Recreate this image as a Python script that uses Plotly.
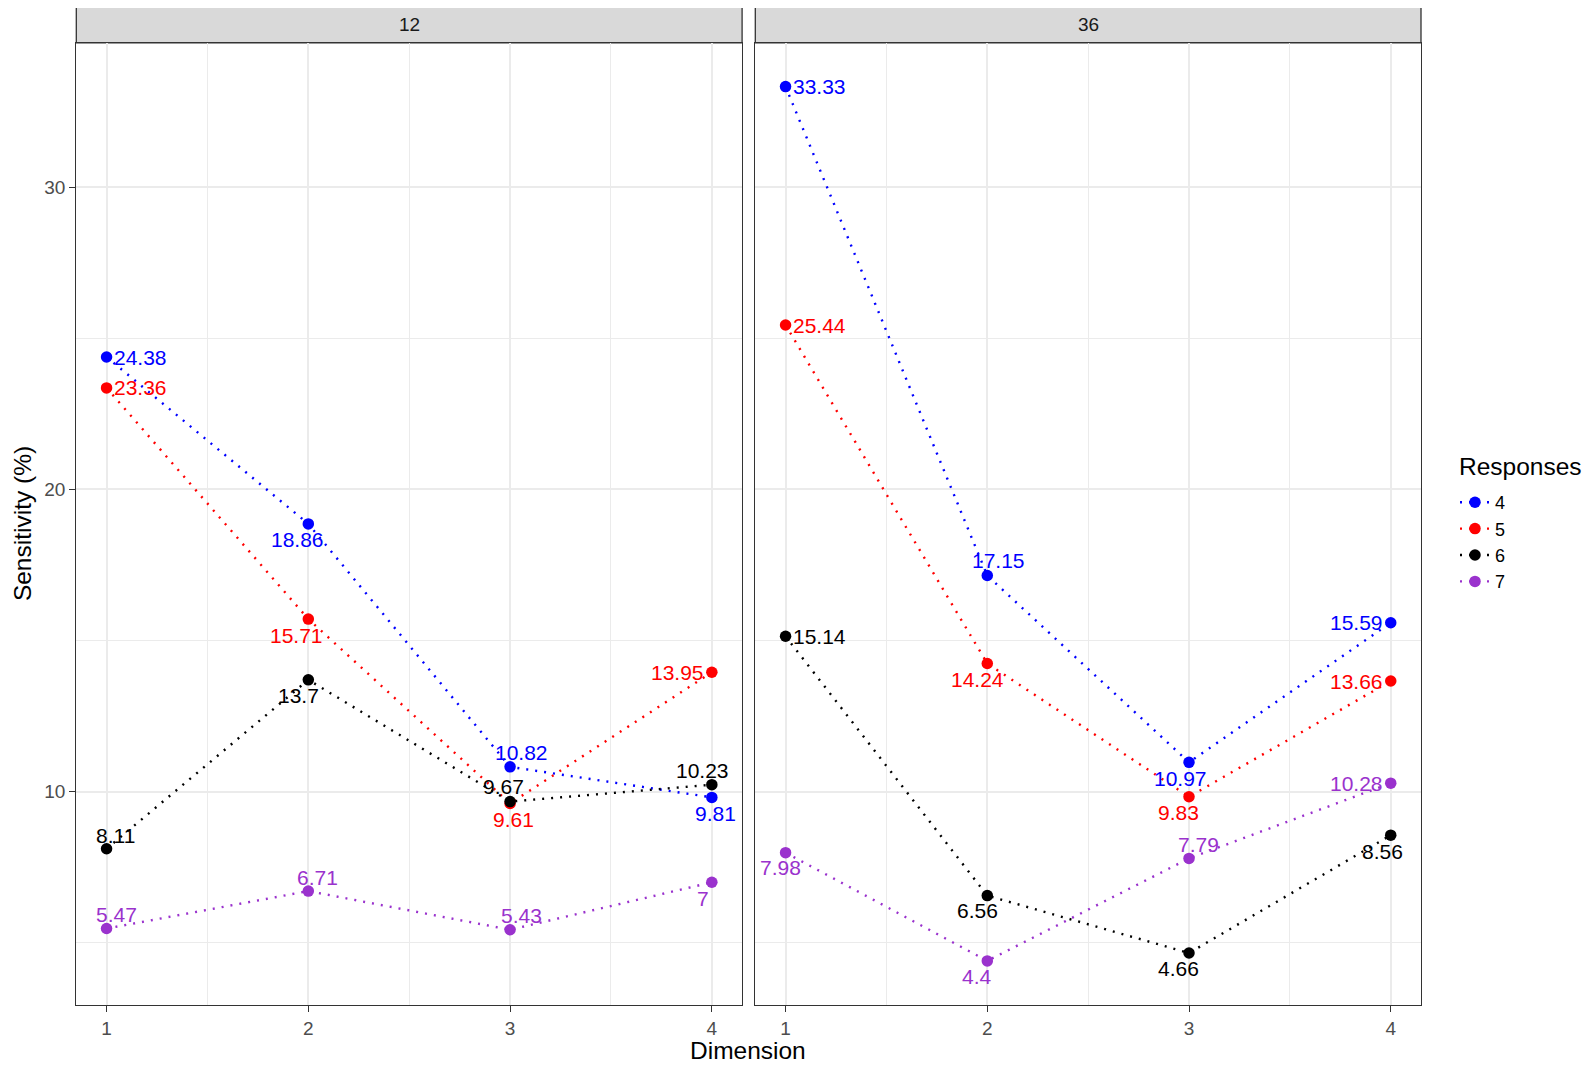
import plotly.graph_objects as go

# ---- data ----
dims = [1, 2, 3, 4]
responses = ["4", "5", "6", "7"]
facets = ["12", "36"]

r4_12 = [24.38, 18.86, 10.82, 9.81]
r5_12 = [23.36, 15.71, 9.61, 13.95]
r6_12 = [8.11, 13.7, 9.67, 10.23]
r7_12 = [5.47, 6.71, 5.43, 7.00]

r4_36 = [33.33, 17.15, 10.97, 15.59]
r5_36 = [25.44, 14.24, 9.83, 13.66]
r6_36 = [15.14, 6.56, 4.66, 8.56]
r7_36 = [7.98, 4.40, 7.79, 10.28]

series = {
    "12": [r4_12, r5_12, r6_12, r7_12],
    "36": [r4_36, r5_36, r6_36, r7_36],
}

# ---- styles ----
colors = ["#0000FF", "#FF0000", "#000000", "#9A32CD"]
FONT = "Liberation Sans, Arial, Helvetica, sans-serif"

# label placement (style only): "R" right of point, "L" left of point, or (dx, dy) px
R, L = "R", "L"
place = {
    "12": [
        [R, (-11, -16), (11, 14), (4, -16)],
        [R, (-12, -16), (3, -16), L],
        [(9, 13), (-10, -16), (-7, 15), (-9, 14)],
        [(10, 14), (9, 14), (11, 14), (-9, -16)],
    ],
    "36": [
        [R, (11, 15), (-9, -16), L],
        [R, (-10, -16), (-11, -16), L],
        [R, (-10, -15), (-11, -15), (-8, -16)],
        [(-5, -15), (-10, -16), (9, 14), L],
    ],
}

# page offset (browser body margin) compensation
OFF = 8
W, H = 1596 - OFF, 1067 - OFF


def px(sx):
    return (sx - OFF) / W


def py(sy):
    return 1 - (sy - OFF) / H


xdom = [[px(76.3), px(742.1)], [px(755.3), px(1421.0)]]
ydom = [py(1004.7), py(42.75)]
strip_top = py(6.1)

fig = go.Figure()
annotations = []
shapes = []

for p, fac in enumerate(facets):
    xa = "x" if p == 0 else "x2"
    ya = "y" if p == 0 else "y2"
    for i, resp in enumerate(responses):
        vals = series[fac][i]
        fig.add_trace(go.Scatter(
            x=dims, y=vals, mode="lines+markers", name=resp,
            legendgroup=resp, showlegend=(p == 0),
            line=dict(color=colors[i], width=2.4, dash="2px,7px"),
            marker=dict(color=colors[i], size=11.5),
            xaxis=xa, yaxis=ya, hoverinfo="x+y+name",
        ))
        for j, v in enumerate(vals):
            pl = place[fac][i][j]
            txt = f"{v:g}"
            if pl == "R":
                xanchor, dx, dy = "left", 5, 0
            elif pl == "L":
                xanchor, dx, dy = "right", -6, 0
            else:
                xanchor = "center"
                dx, dy = pl
            annotations.append(dict(
                x=dims[j], y=v, xref=xa, yref=ya, text=txt, showarrow=False,
                xanchor=xanchor, yanchor="middle", xshift=dx, yshift=dy,
                font=dict(family=FONT, size=21, color=colors[i]),
            ))
    # strip
    shapes.append(dict(type="rect", xref="paper", yref="paper",
                       x0=xdom[p][0], x1=xdom[p][1], y0=ydom[1], y1=strip_top,
                       fillcolor="#D9D9D9", line=dict(color="#333333", width=1.3),
                       layer="below"))
    annotations.append(dict(
        x=(xdom[p][0] + xdom[p][1]) / 2, y=(ydom[1] + strip_top) / 2,
        xref="paper", yref="paper", text=fac, showarrow=False,
        xanchor="center", yanchor="middle",
        font=dict(family=FONT, size=19, color="#1A1A1A"),
    ))

# axis titles
annotations.append(dict(x=px(748), y=py(1050.5), xref="paper", yref="paper",
                        text="Dimension", showarrow=False, xanchor="center", yanchor="middle",
                        font=dict(family=FONT, size=24.5, color="#000000")))
annotations.append(dict(x=px(22.4), y=py(523.7), xref="paper", yref="paper",
                        text="Sensitivity (%)", showarrow=False, textangle=-90,
                        xanchor="center", yanchor="middle",
                        font=dict(family=FONT, size=24.5, color="#000000")))
# legend title
annotations.append(dict(x=px(1457), y=py(466), xref="paper", yref="paper",
                        text="Responses", showarrow=False, xanchor="left", yanchor="middle",
                        font=dict(family=FONT, size=24.5, color="#000000")))

xcommon = dict(
    range=[0.85, 4.15], tickvals=dims, ticktext=[str(d) for d in dims],
    showgrid=True, gridcolor="#EBEBEB", gridwidth=1.6,
    minor=dict(tickvals=[1.5, 2.5, 3.5], showgrid=True, gridcolor="#EBEBEB", gridwidth=0.8),
    showline=True, mirror=True, linecolor="#333333", linewidth=1.4,
    ticks="outside", ticklen=6, tickwidth=1.4, tickcolor="#333333",
    tickfont=dict(family=FONT, size=19, color="#4D4D4D"),
    zeroline=False, fixedrange=True,
)
ycommon = dict(
    range=[2.95, 34.78], tickvals=[10, 20, 30],
    showgrid=True, gridcolor="#EBEBEB", gridwidth=1.6,
    minor=dict(tickvals=[5, 15, 25], showgrid=True, gridcolor="#EBEBEB", gridwidth=0.8),
    showline=True, mirror=True, linecolor="#333333", linewidth=1.4,
    zeroline=False, fixedrange=True, domain=ydom,
)

fig.update_layout(
    width=W, height=H,
    margin=dict(l=0, r=0, t=0, b=0),
    paper_bgcolor="white", plot_bgcolor="white",
    xaxis=dict(domain=xdom[0], anchor="y", **xcommon),
    xaxis2=dict(domain=xdom[1], anchor="y2", **xcommon),
    yaxis=dict(anchor="x", ticks="outside", ticklen=6, tickwidth=1.4, tickcolor="#333333",
               tickfont=dict(family=FONT, size=19, color="#4D4D4D"), **ycommon),
    yaxis2=dict(anchor="x2", matches="y", showticklabels=False, ticks="", **ycommon),
    legend=dict(
        x=(1455 - OFF) / W, y=py(484), xanchor="left", yanchor="top",
        font=dict(family=FONT, size=18, color="#000000"),
        tracegroupgap=0, bgcolor="rgba(0,0,0,0)", itemwidth=30,
    ),
    annotations=annotations, shapes=shapes,
    font=dict(family=FONT),
)

fig.write_html("out.html")
